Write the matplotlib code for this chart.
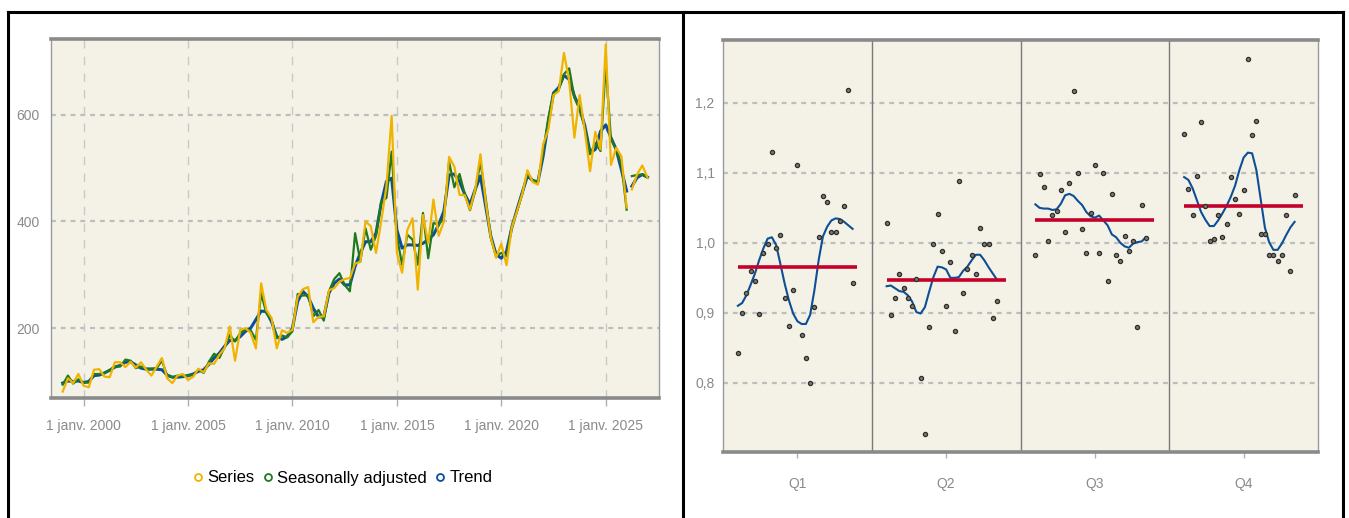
import numpy as np
import matplotlib
matplotlib.use("Agg")
import matplotlib.pyplot as plt
from matplotlib.lines import Line2D

plt.rcParams['font.family'] = ['Liberation Sans Narrow', 'DejaVu Sans Condensed', 'Liberation Sans', 'DejaVu Sans']

# ---- left chart : quarterly data, 1999 Q1 -> 2026 Q1, then forecasts 2026 Q2 -> 2027 Q1
start_year = 1999
series = [81, 106, 97, 114, 92, 89, 122, 123, 109, 108, 136, 136, 127, 137, 126, 136,
          122, 111, 128, 144, 106, 97, 111, 114, 103, 109, 124, 117, 134, 133, 150, 162,
          203, 139, 197, 200, 191, 162, 284, 234, 219, 162, 196, 191, 197, 259, 273, 277,
          211, 221, 222, 271, 275, 287, 292, 294, 321, 324, 400, 391, 341, 400, 466, 598,
          341, 304, 384, 406, 272, 412, 359, 441, 373, 400, 521, 503, 450, 449, 422, 460,
          526, 438, 369, 332, 358, 318, 388, 419, 451, 496, 474, 469, 544, 572, 637, 644,
          716, 663, 557, 637, 569, 494, 568, 535, 732, 506, 538, 522, 426]
seas_adj = [94, 111, 96, 104, 98, 98, 114, 114, 116, 121, 128, 128, 141, 139, 125, 128,
            124, 124, 125, 139, 111, 108, 111, 111, 111, 112, 122, 116, 137, 152, 144, 164,
            187, 175, 191, 197, 196, 178, 265, 228, 216, 181, 186, 183, 194, 264, 261, 262,
            222, 234, 214, 269, 292, 303, 281, 269, 378, 325, 387, 347, 373, 437, 444, 531,
            372, 319, 375, 366, 319, 416, 331, 397, 394, 406, 512, 464, 489, 451, 421, 457,
            512, 444, 369, 335, 341, 335, 391, 419, 451, 491, 477, 474, 529, 594, 641, 647,
            676, 687, 632, 610, 576, 526, 547, 532, 694, 554, 535, 507, 422]
trend = [97, 101, 100, 101, 98, 100, 111, 112, 116, 121, 127, 130, 136, 137, 131, 125,
         123, 123, 123, 122, 112, 108, 108, 109, 111, 114, 119, 122, 132, 144, 153, 166,
         177, 177, 184, 194, 200, 216, 232, 231, 212, 184, 179, 184, 200, 250, 269, 259,
         237, 221, 221, 266, 284, 292, 281, 281, 316, 341, 362, 362, 378, 434, 475, 481,
         384, 350, 356, 356, 355, 359, 366, 375, 394, 419, 487, 489, 475, 451, 432, 460,
         485, 429, 372, 338, 331, 344, 388, 422, 454, 485, 477, 474, 522, 585, 641, 651,
         674, 666, 635, 613, 579, 529, 535, 569, 581, 557, 535, 497, 457]
series_fc = [460, 488, 505, 482]
seas_adj_fc = [485, 487, 488, 482]
trend_fc = [466, 482, 488, 483]

year_ticks = [2000, 2005, 2010, 2015, 2020, 2025]
year_labels = ["1 janv. " + str(y) for y in year_ticks]

# ---- right chart : SI ratios and seasonal factors by quarter
quarters = ["Q1", "Q2", "Q3", "Q4"]
si_ratios = [
    [0.843, 0.900, 0.928, 0.960, 0.946, 0.898, 0.986, 0.999, 1.130, 0.992, 1.011, 0.921, 0.881, 0.932,
     1.111, 0.868, 0.836, 0.800, 0.909, 1.008, 1.067, 1.059, 1.015, 1.016, 1.031, 1.052, 1.219, 0.942],
    [1.028, 0.897, 0.921, 0.956, 0.935, 0.921, 0.910, 0.949, 0.807, 0.727, 0.879, 0.999, 1.041, 0.989,
     0.910, 0.973, 0.874, 1.088, 0.929, 0.962, 0.983, 0.956, 1.021, 0.999, 0.999, 0.892, 0.917],
    [0.982, 1.098, 1.080, 1.002, 1.040, 1.045, 1.075, 1.016, 1.085, 1.217, 1.100, 1.020, 0.986, 1.042,
     1.111, 0.986, 1.100, 0.946, 1.070, 0.983, 0.974, 1.010, 0.989, 1.002, 0.880, 1.054, 1.007],
    [1.155, 1.077, 1.040, 1.096, 1.173, 1.053, 1.002, 1.006, 1.040, 1.009, 1.027, 1.094, 1.063, 1.041,
     1.076, 1.263, 1.154, 1.174, 1.012, 1.012, 0.982, 0.982, 0.974, 0.983, 1.040, 0.960, 1.069],
]
seas_factors = [
    [0.910, 0.914, 0.925, 0.940, 0.956, 0.975, 0.992, 1.006, 1.008, 0.997, 0.970, 0.942, 0.918, 0.899,
     0.888, 0.884, 0.884, 0.897, 0.932, 0.975, 1.009, 1.023, 1.032, 1.035, 1.034, 1.030, 1.025, 1.020],
    [0.938, 0.939, 0.935, 0.931, 0.930, 0.925, 0.916, 0.901, 0.899, 0.908, 0.930, 0.951, 0.966, 0.965,
     0.962, 0.950, 0.950, 0.951, 0.960, 0.966, 0.975, 0.983, 0.983, 0.975, 0.965, 0.956, 0.947],
    [1.055, 1.050, 1.049, 1.049, 1.047, 1.048, 1.056, 1.068, 1.070, 1.067, 1.060, 1.054, 1.044, 1.038,
     1.036, 1.039, 1.032, 1.025, 1.012, 1.008, 1.000, 0.995, 0.993, 0.999, 1.001, 1.002, 1.008],
    [1.094, 1.090, 1.078, 1.061, 1.044, 1.033, 1.024, 1.024, 1.032, 1.042, 1.053, 1.066, 1.082, 1.104,
     1.122, 1.129, 1.128, 1.104, 1.063, 1.022, 1.001, 0.990, 0.990, 0.999, 1.011, 1.022, 1.030],
]
quarter_means = [0.965, 0.947, 1.033, 1.053]
si_ticks = [0.8, 0.9, 1.0, 1.1, 1.2]

C_SERIES = "#f0b400"
C_SA = "#1f7a1f"
C_TREND = "#0d4f96"
C_MEAN = "#c4002b"
BG = "#f4f2e6"
GRID = "#bdbdbd"
TXT = "#8a8a8a"

fig = plt.figure(figsize=(13.49, 5.18), dpi=100)

# outer black frames
for x0, x1, y0, y1 in [(8, 1343, 12, 12), (8, 8, 12, 518), (683, 683, 12, 518), (1343, 1343, 12, 518)]:
    fig.add_artist(Line2D([x0 / 1349, x1 / 1349], [1 - y0 / 518, 1 - y1 / 518],
                          transform=fig.transFigure, color="black", lw=2.2))

# ---------------- left panel
ax = fig.add_axes([51 / 1349, 1 - 398 / 518, 608 / 1349, 359 / 518])
ax.set_facecolor(BG)
n = len(series)
t = start_year + np.arange(n) / 4
t_fc = start_year + (n + np.arange(len(series_fc))) / 4

ax.plot(t, trend, color=C_TREND, lw=2.2, zorder=3)
ax.plot(t_fc, trend_fc, color=C_TREND, lw=2.2, zorder=3)
ax.plot(t, seas_adj, color=C_SA, lw=1.6, zorder=4)
ax.plot(t_fc, seas_adj_fc, color=C_SA, lw=1.6, zorder=4)
ax.plot(t, series, color=C_SERIES, lw=1.6, zorder=5)
ax.plot(t_fc, series_fc, color=C_SERIES, lw=1.6, zorder=5)

ax.set_xlim(1998.44, 2027.55)
ax.set_ylim(69, 742)
ax.set_yticks([200, 400, 600])
ax.set_xticks(year_ticks)
ax.set_xticklabels(year_labels)
for y in [200, 400, 600]:
    ax.axhline(y, color=GRID, lw=1.6, ls=(0, (2.2, 2.2)), zorder=1)
for x in year_ticks:
    ax.axvline(x, color="#c8c8c8", lw=1.0, ls=(0, (6, 6)), zorder=1)
ax.tick_params(axis="x", colors="#b0b0b0", length=6, width=1, labelcolor=TXT, labelsize=10, pad=9)
ax.tick_params(axis="y", length=0, labelcolor=TXT, labelsize=10, pad=8)

for side in ["top", "bottom"]:
    ax.spines[side].set_color("#8a8a8a")
    ax.spines[side].set_linewidth(2.6)
for side in ["left", "right"]:
    ax.spines[side].set_color("#9a9a9a")
    ax.spines[side].set_linewidth(1.0)

handles = [Line2D([], [], ls="none", marker="o", ms=5, mfc="none", mew=1.3, mec=c)
           for c in [C_SERIES, C_SA, C_TREND]]
fig.legend(handles, ["Series", "Seasonally adjusted", "Trend"], ncol=3, frameon=False,
           loc="center", bbox_to_anchor=(343 / 1349, 1 - 478 / 518), fontsize=12,
           handlelength=0.6, handletextpad=0.25, columnspacing=0.5)

# ---------------- right panel
ax2 = fig.add_axes([723 / 1349, 1 - 452 / 518, 595 / 1349, 412 / 518])
ax2.set_facecolor(BG)
for q in range(4):
    xs = q + 0.1 + 0.8 * np.arange(len(si_ratios[q])) / 28
    ax2.plot(xs, seas_factors[q], color=C_TREND, lw=1.5, zorder=3)
    ax2.hlines(quarter_means[q], q + 0.1, q + 0.9, color=C_MEAN, lw=2.6, zorder=4)
    ax2.plot(xs, si_ratios[q], ls="none", marker="o", ms=3.0, mfc="#7a7a70", mec="#2e2e2e",
             mew=0.9, zorder=5)
for q in range(1, 4):
    ax2.axvline(q, color="#7a7a7a", lw=1.0, zorder=2)
for y in si_ticks:
    ax2.axhline(y, color=GRID, lw=1.6, ls=(0, (2.2, 2.2)), zorder=1)

ax2.set_xlim(0, 4)
ax2.set_ylim(0.701, 1.29)
ax2.set_xticks(np.arange(4) + 0.5)
ax2.set_xticklabels(quarters)
ax2.set_yticks(si_ticks)
ax2.set_yticklabels([("%.1f" % v).replace(".", ",") for v in si_ticks])
ax2.tick_params(axis="x", colors="#b0b0b0", length=4, width=1, labelcolor=TXT, labelsize=10, pad=14)
ax2.tick_params(axis="y", length=0, labelcolor=TXT, labelsize=10, pad=6)
for side in ["top", "bottom"]:
    ax2.spines[side].set_color("#8a8a8a")
    ax2.spines[side].set_linewidth(2.6)
for side in ["left", "right"]:
    ax2.spines[side].set_color("#9a9a9a")
    ax2.spines[side].set_linewidth(1.0)

fig.savefig("out.png", dpi=100, facecolor="white")
